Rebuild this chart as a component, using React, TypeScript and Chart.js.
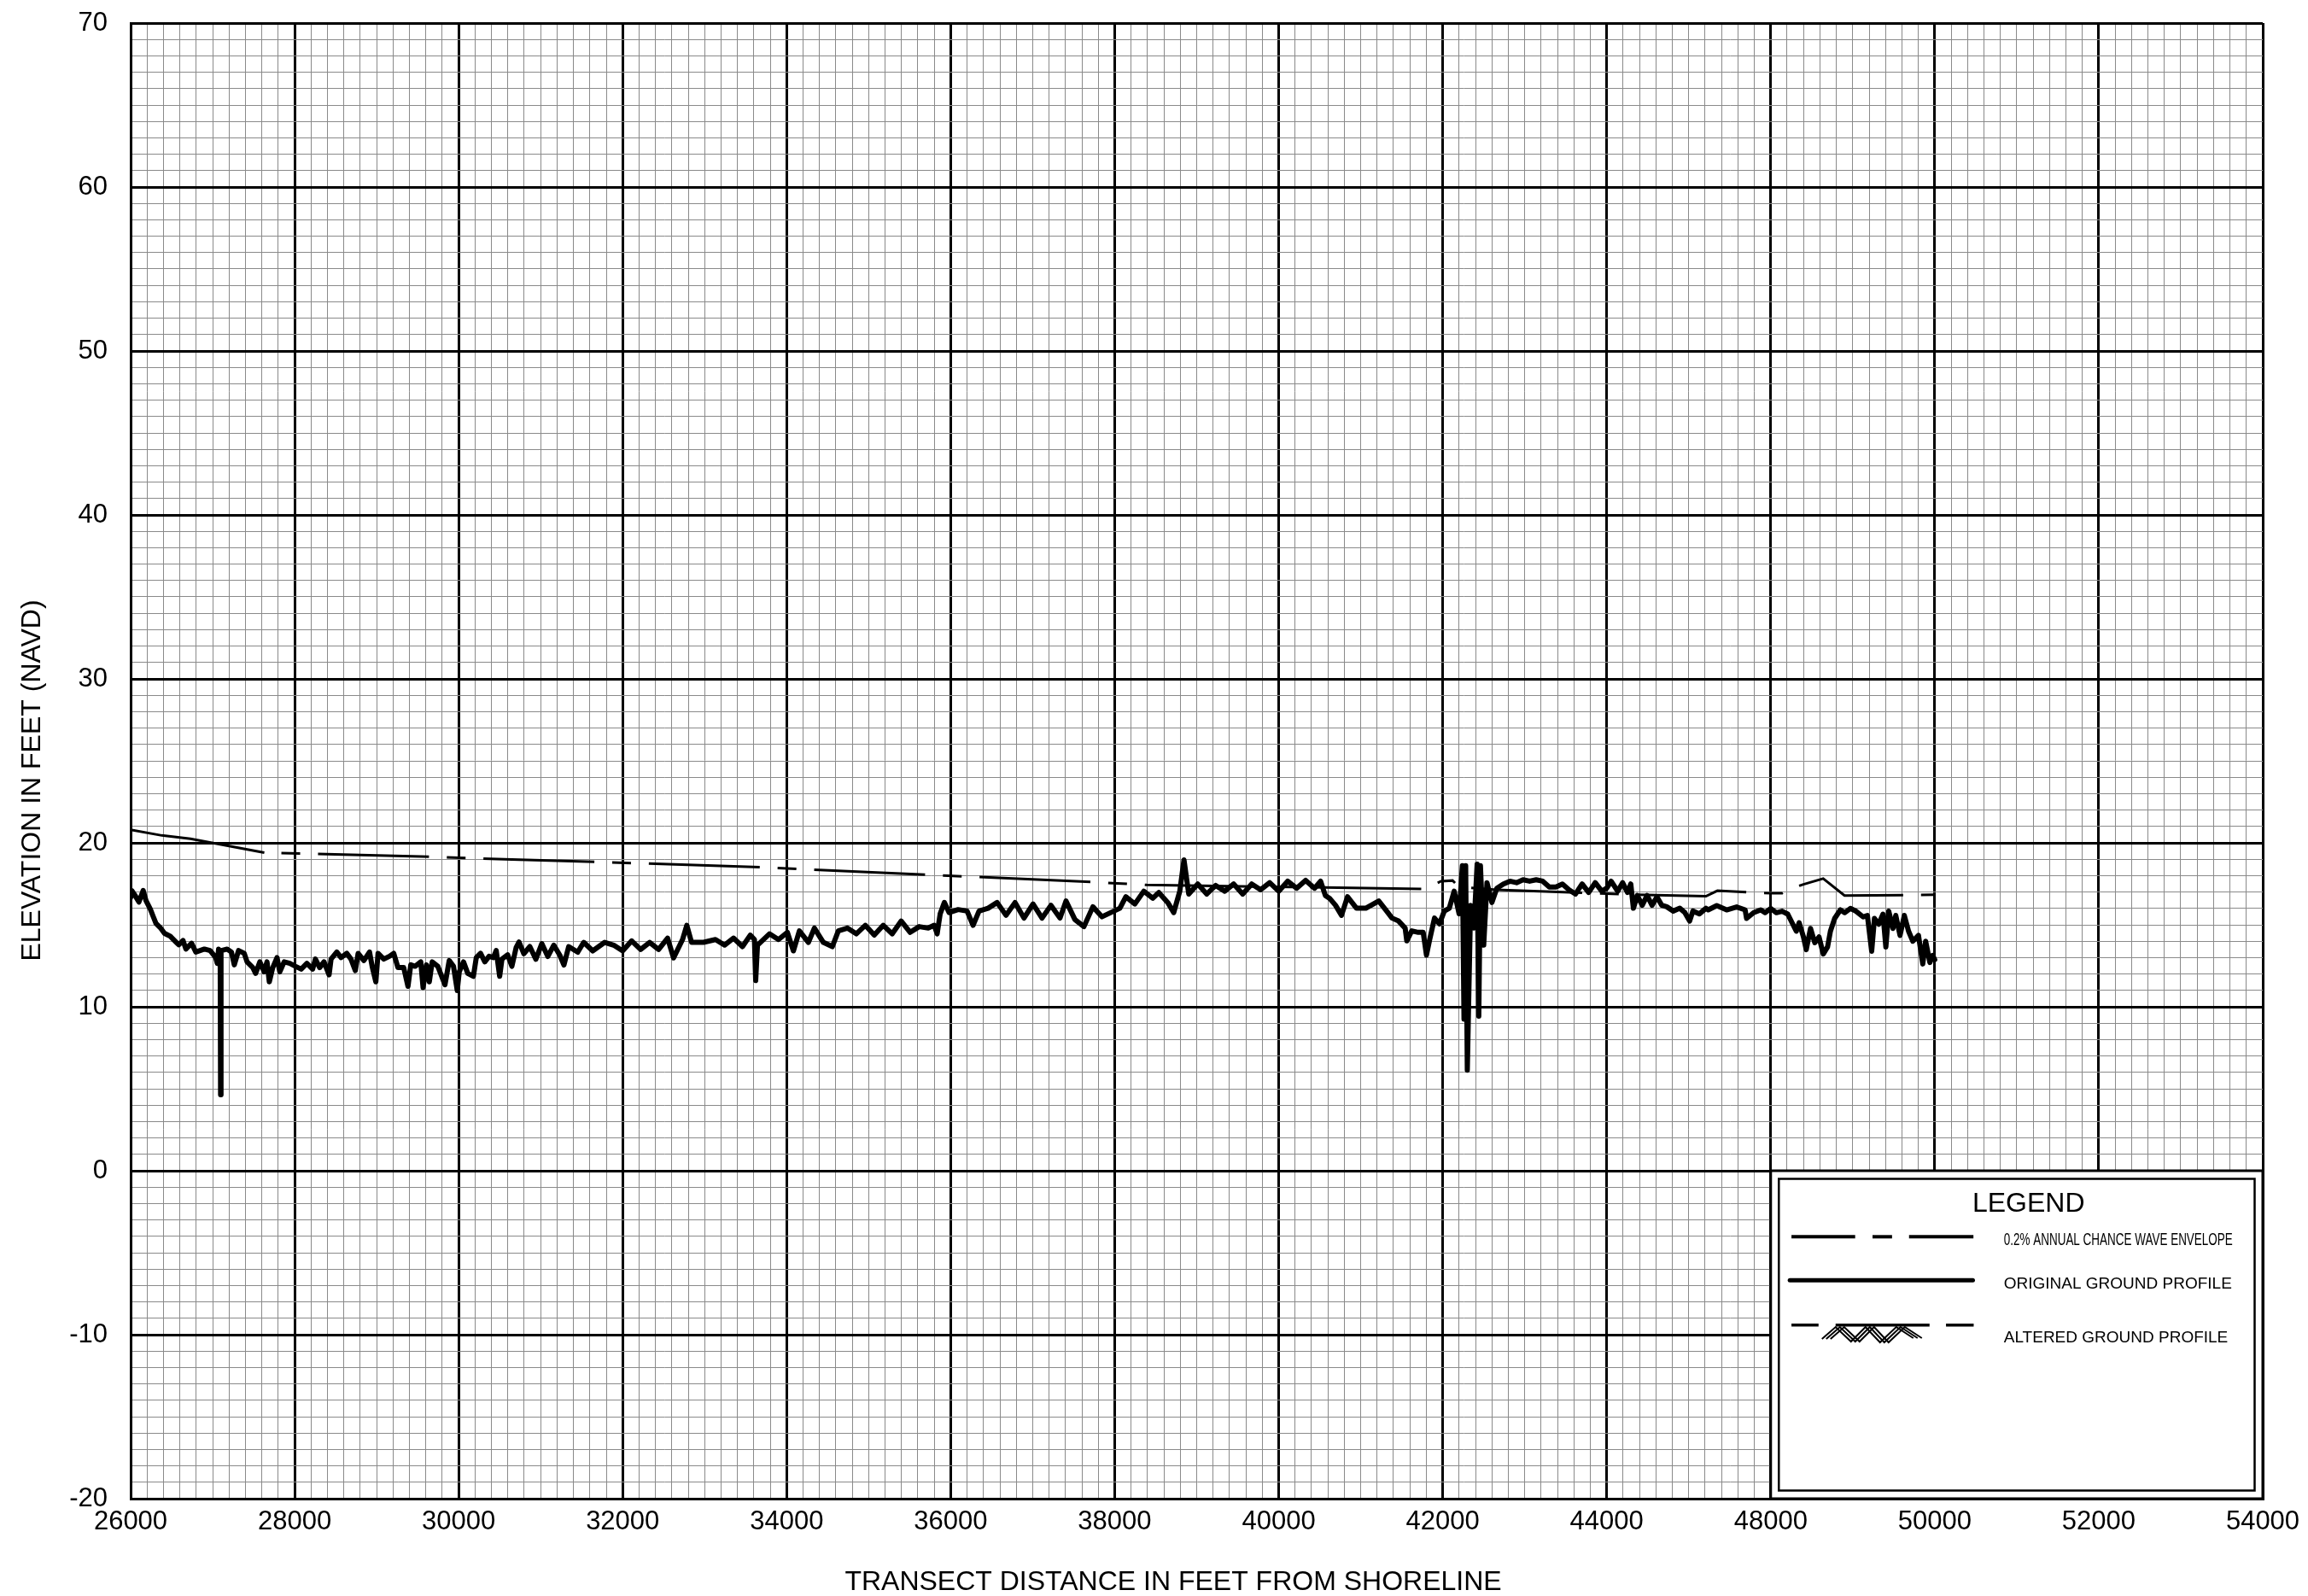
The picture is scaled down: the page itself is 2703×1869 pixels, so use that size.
import React, { useEffect, useRef } from 'react';
import { Chart, registerables } from 'chart.js';

Chart.register(...registerables);

const W = 2703;
const H = 1869;
const FONT = "'Liberation Sans', Arial, Helvetica, sans-serif";

// ---- axis tick labels (note: the original drawing skips 46000) ----
const X_TICK_LABELS = [26000, 28000, 30000, 32000, 34000, 36000, 38000, 40000, 42000, 44000, 48000, 50000, 52000, 54000];
const Y_MIN = -20;
const Y_MAX = 70;
const Y_MAJOR_STEP = 10;

const X_TITLE = 'TRANSECT DISTANCE IN FEET FROM SHORELINE';
const Y_TITLE = 'ELEVATION IN FEET (NAVD)';

const LEGEND_TITLE = 'LEGEND';
const LEGEND_LABELS = ['0.2% ANNUAL CHANCE WAVE ENVELOPE', 'ORIGINAL GROUND PROFILE', 'ALTERED GROUND PROFILE'];
const LEGEND_FROM_LABEL = 48000; // legend box starts at this x tick
const LEGEND_TOP_ELEV = 0;

// ---- 0.2% annual chance wave envelope (distance ft, elevation ft) ----
const ENVELOPE_FT = [26000, 26380, 26730, 27630, 28100, 29660, 30650, 31670, 33680, 35690, 37730, 38390, 41790, 41980, 42120, 42200, 42660, 44590, 46420, 46700, 47580, 48000, 48140, 48210, 48400, 48640, 48900, 50000];
const ENVELOPE_ELEV = [20.8, 20.45, 20.25, 19.4, 19.35, 19.15, 18.98, 18.84, 18.51, 18.06, 17.61, 17.43, 17.19, 17.66, 17.7, 17.31, 17.14, 16.85, 16.74, 17.08, 16.97, 16.93, 16.93, 17.13, 17.47, 17.82, 16.79, 16.83];
const ENVELOPE_DASH_FROM_FT = 27630;

// ---- original ground profile (distance ft, elevation ft) ----
const PROFILE_FT = [
  26000, 26014, 26049, 26101, 26153, 26187, 26240, 26274, 26309, 26361, 26413, 26483, 26552, 26587, 26639, 26674, 26743, 26795, 26899, 26969,
  27038, 27056, 27073, 27092, 27097, 27102, 27108, 27177, 27229, 27264, 27316, 27385, 27420, 27490, 27524, 27576, 27628, 27663, 27691, 27733,
  27785, 27819, 27872, 27941, 28010, 28080, 28149, 28219, 28253, 28305, 28358, 28420, 28444, 28514, 28566, 28635, 28687, 28740, 28774, 28844,
  28913, 28948, 28990, 29017, 29087, 29156, 29208, 29260, 29330, 29382, 29416, 29469, 29538, 29566, 29607, 29642, 29677, 29746, 29833, 29885,
  29937, 29983, 30007, 30059, 30111, 30180, 30215, 30267, 30319, 30371, 30423, 30458, 30500, 30528, 30597, 30649, 30701, 30736,
  30795, 30868, 30941, 31014, 31087, 31160, 31233, 31284, 31342, 31452, 31525, 31635, 31781, 31890, 32000, 32110, 32219, 32329, 32438, 32548,
  32621, 32730, 32782, 32840, 32986, 33132, 33242, 33351, 33461, 33556, 33607, 33622, 33644, 33790, 33900, 34009, 34082, 34155, 34265, 34338,
  34447, 34557, 34630, 34740, 34849, 34959, 35068, 35178, 35287, 35397, 35506, 35616, 35726, 35799, 35835, 35872, 35923, 35981, 36091, 36200,
  36273, 36346, 36456, 36566, 36675, 36785, 36894, 37004, 37114, 37223, 37333, 37406, 37515, 37625, 37734, 37844, 37953, 38063, 38136, 38246,
  38355, 38465, 38538, 38647, 38720, 38794, 38845, 38903, 39013, 39123, 39232, 39342, 39451, 39561, 39671, 39780, 39890, 40000, 40109, 40218,
  40328, 40437, 40511, 40569, 40620, 40693, 40766, 40839, 40949, 41062, 41220, 41302, 41382, 41462, 41542, 41562, 41622, 41702, 41762, 41802,
  41841, 41900, 41960, 42020, 42080, 42140, 42200, 42240, 42260, 42280, 42300, 42340, 42380, 42420, 42440, 42460, 42500, 42540, 42600, 42660,
  42740, 42820, 42900, 42980, 43060, 43140, 43220, 43300, 43380, 43460, 43540, 43620, 43700, 43780, 43860, 43940, 44000, 44108, 44267, 44387,
  44507, 44587, 44651, 44746, 44866, 44985, 45105, 45225, 45344, 45464, 45623, 45783, 45903, 46022, 46102, 46261, 46421, 46476, 46684, 46925,
  47168, 47376, 47411, 47584, 47757, 47861, 48000, 48069, 48139, 48208, 48260, 48312, 48347, 48399, 48433, 48485, 48537, 48589, 48641, 48693,
  48728, 48780, 48849, 48901, 48971, 49040, 49127, 49179, 49231, 49265, 49317, 49369, 49404, 49439, 49491, 49525, 49577, 49629, 49681, 49733,
  49802, 49854, 49889, 49941, 49975, 50000,
];
const PROFILE_ELEV = [
  16.66, 17.09, 16.83, 16.39, 17.09, 16.48, 15.96, 15.52, 15.09, 14.83, 14.48, 14.3, 13.95, 13.78, 14.04, 13.52, 13.87, 13.34, 13.52, 13.43,
  13.0, 12.65, 13.52, 13.2, 4.63, 13.4, 13.43, 13.52, 13.34, 12.56, 13.43, 13.26, 12.74, 12.39, 12.04, 12.74, 12.13, 12.74, 11.52, 12.39,
  13.0, 12.13, 12.74, 12.65, 12.47, 12.3, 12.65, 12.3, 12.91, 12.39, 12.74, 11.95, 12.91, 13.34, 13.0, 13.26, 12.91, 12.21, 13.26, 12.82,
  13.34, 12.39, 11.52, 13.26, 12.91, 13.08, 13.26, 12.39, 12.39, 11.25, 12.56, 12.47, 12.74, 11.17, 12.56, 11.52, 12.74, 12.47, 11.34, 12.82,
  12.47, 10.99, 12.13, 12.74, 12.04, 11.86, 13.0, 13.26, 12.74, 13.08, 13.0, 13.43, 11.86, 12.91, 13.17, 12.47, 13.61, 13.95,
  13.24, 13.67, 12.9, 13.85, 13.07, 13.76, 13.15, 12.55, 13.67, 13.33, 13.93, 13.41, 13.93, 13.76, 13.41, 14.02, 13.5, 13.93, 13.5, 14.19,
  12.98, 14.1, 14.97, 13.93, 13.93, 14.1, 13.76, 14.19, 13.67, 14.37, 14.1, 11.6, 13.76, 14.45, 14.1, 14.54, 13.41, 14.63, 13.93, 14.8,
  13.93, 13.67, 14.63, 14.8, 14.45, 14.97, 14.37, 14.97, 14.45, 15.23, 14.54, 14.89, 14.8, 14.97, 14.45, 15.67, 16.36, 15.75, 15.93, 15.84,
  14.97, 15.84, 16.01, 16.36, 15.58, 16.36, 15.41, 16.27, 15.41, 16.19, 15.41, 16.45, 15.32, 14.89, 16.1, 15.49, 15.75, 16.01, 16.71, 16.27,
  17.05, 16.62, 16.97, 16.36, 15.75, 17.05, 18.96, 16.88, 17.49, 16.88, 17.4, 17.05, 17.49, 16.88, 17.49, 17.14, 17.57, 17.05, 17.66, 17.23,
  17.71, 17.23, 17.66, 16.79, 16.62, 16.19, 15.58, 16.71, 16.01, 16.01, 16.45, 15.93, 15.41, 15.23, 14.8, 14.02, 14.63, 14.54, 14.54, 13.15,
  14.1, 15.41, 15.06, 15.84, 16.01, 17.05, 15.67, 18.61, 9.25, 18.61, 6.13, 16.19, 14.8, 18.7, 9.43, 18.61, 13.76, 17.57, 16.36, 17.23,
  17.49, 17.66, 17.57, 17.75, 17.66, 17.75, 17.66, 17.31, 17.31, 17.49, 17.14, 16.88, 17.49, 16.97, 17.57, 17.05, 17.23, 17.66, 17.05, 17.57,
  16.97, 17.49, 16.01, 16.79, 16.19, 16.79, 16.19, 16.71, 16.19, 16.1, 15.84, 16.01, 15.75, 15.23, 15.84, 15.67, 16.01, 15.91, 16.17, 15.91,
  16.09, 15.91, 15.39, 15.74, 15.91, 15.74, 16.0, 15.74, 15.83, 15.65, 15.13, 14.61, 15.13, 14.26, 13.48, 14.78, 13.91, 14.26, 13.22, 13.65,
  14.61, 15.39, 15.91, 15.74, 16.0, 15.83, 15.48, 15.57, 13.39, 15.39, 15.04, 15.65, 13.65, 15.83, 14.78, 15.57, 14.35, 15.57, 14.61, 14.0,
  14.35, 12.61, 14.0, 12.7, 13.13, 12.87,
];

// map a distance (ft, as labelled) onto the position of the labelled grid
function toAxisPos(ft: number): number {
  const n = X_TICK_LABELS.length;
  for (let i = 0; i < n - 1; i++) {
    const a = X_TICK_LABELS[i];
    const b = X_TICK_LABELS[i + 1];
    if (ft <= b || i === n - 2) return i + (ft - a) / (b - a);
  }
  return 0;
}

const isInt = (v: number) => Math.abs(v - Math.round(v)) < 1e-6;

const MINOR_COLOR = '#8a8a8a';
const MAJOR_WIDTH = 3;
const MINOR_WIDTH = 1;

const ENVELOPE_DASH = [22, 20.9, 130, 20.9];
const ENVELOPE_DASH_OFFSET = 173.8;

const titlesPlugin = {
  id: 'axisTitles',
  afterDraw(chart: any) {
    const { ctx } = chart;
    ctx.save();
    ctx.fillStyle = '#000';
    ctx.font = `32px ${FONT}`;
    ctx.textAlign = 'center';
    ctx.textBaseline = 'alphabetic';
    ctx.fillText(X_TITLE, 1374, 1862);
    ctx.translate(47, 914);
    ctx.rotate(-Math.PI / 2);
    ctx.fillText(Y_TITLE, 0, 0);
    ctx.restore();
  },
};

const legendPlugin = {
  id: 'legendBox',
  afterDatasetsDraw(chart: any) {
    const { ctx, chartArea, scales } = chart;
    const x0 = scales.x.getPixelForValue(toAxisPos(LEGEND_FROM_LABEL));
    const y0 = scales.y.getPixelForValue(LEGEND_TOP_ELEV);
    const x1 = chartArea.right;
    const y1 = chartArea.bottom;
    ctx.save();
    ctx.fillStyle = '#fff';
    ctx.fillRect(x0, y0, x1 - x0, y1 - y0);
    ctx.strokeStyle = '#000';
    ctx.lineWidth = 3;
    ctx.strokeRect(x0, y0, x1 - x0, y1 - y0);
    const inset = 9.5;
    ctx.lineWidth = 2.5;
    ctx.strokeRect(x0 + inset, y0 + inset, x1 - x0 - 2 * inset, y1 - y0 - 2 * inset);

    ctx.fillStyle = '#000';
    ctx.textBaseline = 'alphabetic';
    ctx.textAlign = 'center';
    ctx.font = `32px ${FONT}`;
    ctx.fillText(LEGEND_TITLE, x0 + 302, y0 + 48);

    const seg = (a: number, b: number, y: number, w: number, cap: CanvasLineCap) => {
      ctx.beginPath();
      ctx.lineCap = cap;
      ctx.lineWidth = w;
      ctx.moveTo(x0 + a, y0 + y);
      ctx.lineTo(x0 + b, y0 + y);
      ctx.stroke();
    };
    // row 1: envelope symbol
    seg(24.3, 98.9, 77.3, 4, 'butt');
    seg(119.2, 142.1, 77.3, 4, 'butt');
    seg(162, 237.4, 77.3, 4, 'butt');
    // row 2: ground profile
    seg(22.4, 236.7, 128.3, 5, 'round');
    // row 3: altered ground
    seg(24.3, 56, 180.7, 3.5, 'butt');
    seg(76, 186, 180.7, 3.5, 'butt');
    seg(205.3, 237.7, 180.7, 3.5, 'butt');
    const zig = [[65, 197], [81, 183], [99, 200], [116, 183], [133, 201], [152, 183], [172, 196]];
    ctx.lineWidth = 2;
    ctx.lineCap = 'butt';
    ctx.lineJoin = 'miter';
    for (const dx of [-5, 0, 5]) {
      ctx.beginPath();
      zig.forEach(([zx, zy], i) => {
        if (i === 0) ctx.moveTo(x0 + zx + dx, y0 + zy);
        else ctx.lineTo(x0 + zx + dx, y0 + zy);
      });
      ctx.stroke();
    }

    ctx.textAlign = 'left';
    ctx.font = `21px ${FONT}`;
    ctx.fillText(LEGEND_LABELS[0], x0 + 273, y0 + 87, 268);
    ctx.font = `19px ${FONT}`;
    ctx.fillText(LEGEND_LABELS[1], x0 + 273, y0 + 138.3);
    ctx.fillText(LEGEND_LABELS[2], x0 + 273, y0 + 200.7);
    ctx.restore();
  },
};

export default function App() {
  const ref = useRef<HTMLCanvasElement>(null);

  useEffect(() => {
    const canvas = ref.current;
    if (!canvas) return;

    const profile = PROFILE_FT.map((ft, i) => ({ x: toAxisPos(ft), y: PROFILE_ELEV[i] }));
    const envelope = ENVELOPE_FT.map((ft, i) => ({ x: toAxisPos(ft), y: ENVELOPE_ELEV[i] }));
    const dashStart = ENVELOPE_FT.findIndex((f) => f >= ENVELOPE_DASH_FROM_FT);
    const xMax = X_TICK_LABELS.length - 1;

    const chart = new Chart(canvas, {
      type: 'line',
      data: {
        datasets: [
          {
            label: LEGEND_LABELS[1],
            data: profile,
            borderColor: '#000',
            borderWidth: 6,
            borderJoinStyle: 'round',
            borderCapStyle: 'round',
            pointRadius: 0,
            tension: 0,
            order: 0,
          },
          {
            label: LEGEND_LABELS[0],
            data: envelope,
            borderColor: '#000',
            borderWidth: 3,
            borderCapStyle: 'butt',
            pointRadius: 0,
            tension: 0,
            order: 1,
            segment: {
              borderDash: (c: any) => (c.p0DataIndex >= dashStart ? ENVELOPE_DASH : []),
              borderDashOffset: (c: any) => (c.p0DataIndex >= dashStart ? ENVELOPE_DASH_OFFSET : 0),
            },
          } as any,
        ],
      },
      options: {
        responsive: false,
        devicePixelRatio: 1,
        animation: false,
        events: [],
        layout: { padding: { left: 0, top: 27, right: 53, bottom: 0 } },
        plugins: {
          legend: { display: false },
          title: { display: false },
          tooltip: { enabled: false },
        },
        scales: {
          x: {
            type: 'linear',
            min: 0,
            max: xMax,
            afterFit: (s: any) => {
              s.height = 114;
              s.paddingLeft = 0;
              s.paddingRight = 0;
            },
            border: { display: true, color: '#000', width: 3 },
            grid: {
              drawTicks: false,
              color: (c: any) => (isInt(c.tick.value) ? '#000' : MINOR_COLOR),
              lineWidth: (c: any) => (isInt(c.tick.value) ? MAJOR_WIDTH : MINOR_WIDTH),
            },
            ticks: {
              stepSize: 0.1,
              autoSkip: false,
              maxRotation: 0,
              minRotation: 0,
              padding: 9,
              color: '#000',
              font: { family: FONT, size: 31 },
              callback: (v: any) => {
                const n = Number(v);
                return isInt(n) ? String(X_TICK_LABELS[Math.round(n)]) : '';
              },
            },
          },
          y: {
            type: 'linear',
            min: Y_MIN,
            max: Y_MAX,
            afterFit: (s: any) => {
              s.width = 153;
              s.paddingTop = 0;
              s.paddingBottom = 0;
            },
            border: { display: true, color: '#000', width: 3 },
            grid: {
              drawTicks: false,
              color: (c: any) => (Math.round(c.tick.value) % Y_MAJOR_STEP === 0 ? '#000' : MINOR_COLOR),
              lineWidth: (c: any) => (Math.round(c.tick.value) % Y_MAJOR_STEP === 0 ? MAJOR_WIDTH : MINOR_WIDTH),
            },
            ticks: {
              stepSize: 1,
              autoSkip: false,
              padding: 27,
              color: '#000',
              font: { family: FONT, size: 31 },
              callback: (v: any) => {
                const n = Math.round(Number(v));
                return n % Y_MAJOR_STEP === 0 ? String(n) : '';
              },
            },
          },
        },
      },
      plugins: [legendPlugin, titlesPlugin],
    } as any);

    return () => chart.destroy();
  }, []);

  return (
    <div style={{ position: 'absolute', left: 0, top: 0, width: W, height: H, background: '#fff' }}>
      <canvas ref={ref} width={W} height={H} style={{ display: 'block', width: W, height: H }} />
    </div>
  );
}
